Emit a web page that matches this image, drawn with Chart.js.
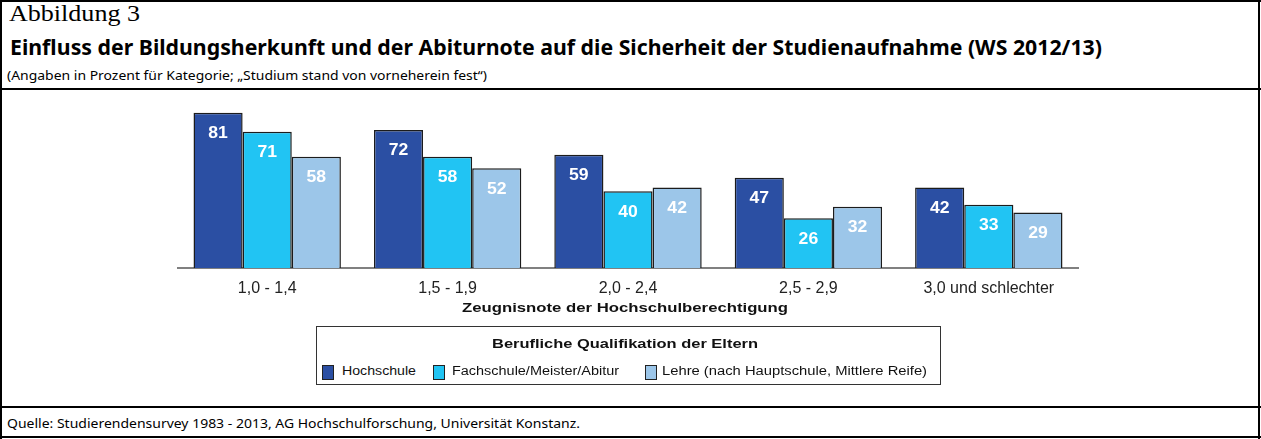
<!DOCTYPE html>
<html>
<head>
<meta charset="utf-8">
<script src="https://cdn.jsdelivr.net/npm/chart.js@4"></script>
<style>
  body { margin: 0; background: #fff; }
  #frame { position: relative; width: 1261px; height: 439px; overflow: hidden; }
  .rule { position: absolute; background: #000; }
  .txt { position: absolute; white-space: nowrap; color: #000; transform-origin: 0 0; }
  #head1 { left: 9px; top: 0px; font: 24px "Liberation Serif", serif; }
  #head2 { left: 10px; top: 31px; font: bold 22px "Noto Sans", sans-serif; }
  #sub { left: 7px; top: 66px; font: 13px "Noto Sans", sans-serif; }
  #src { left: 7px; top: 414px; font: 13px "Noto Sans", sans-serif; }
  #xTitle { left: 462px; top: 300px; font: bold 13px "Liberation Sans", Arial, sans-serif; color: #111; }
  #chartBox { position: absolute; left: 177px; top: 105px; width: 902px; height: 213px; }
  #legend { position: absolute; left: 316px; top: 326px; width: 623px; height: 57px; border: 1px solid #333; }
  #legend .txt { font: 12px "Liberation Sans", Arial, sans-serif; color: #111; }
  #legend .lt { font-weight: bold !important; font-size: 13px !important; }
  #legend .sw { position: absolute; width: 10px; height: 13px; border: 1px solid #222; }
</style>
</head>
<body>
<div id="frame">
  <div class="rule" style="left:0;top:0;width:1261px;height:2px"></div>
  <div class="rule" style="left:0;top:0;width:2px;height:439px"></div>
  <div class="rule" style="left:1258px;top:0;width:2px;height:439px"></div>
  <div class="rule" style="left:0;top:88px;width:1261px;height:2px"></div>
  <div class="rule" style="left:0;top:406px;width:1261px;height:2px"></div>
  <div class="rule" style="left:0;top:436px;width:1261px;height:2px"></div>

  <div class="txt" id="head1" data-w="131">Abbildung 3</div>
  <div class="txt" id="head2" data-w="1092">Einfluss der Bildungsherkunft und der Abiturnote auf die Sicherheit der Studienaufnahme (WS 2012/13)</div>
  <div class="txt" id="sub" data-w="480">(Angaben in Prozent für Kategorie; „Studium stand von vorneherein fest“)</div>
  <div class="txt" id="src" data-w="573">Quelle: Studierendensurvey 1983 - 2013, AG Hochschulforschung, Universität Konstanz.</div>

  <div id="chartBox"><canvas id="chart" width="902" height="213"></canvas></div>
  <div class="txt" id="xTitle" data-w="326">Zeugnisnote der Hochschulberechtigung</div>
  <div id="legend"><div class="txt lt" data-w="266" style="left:175px;top:9px">Berufliche Qualifikation der Eltern</div></div>
</div>
<script>
const categories = ['1,0 - 1,4', '1,5 - 1,9', '2,0 - 2,4', '2,5 - 2,9', '3,0 und schlechter'];
const seriesNames = ['Hochschule', 'Fachschule/Meister/Abitur', 'Lehre (nach Hauptschule, Mittlere Reife)'];
const hochschule = [81, 72, 59, 47, 42];
const fachschule = [71, 58, 40, 26, 33];
const lehre = [58, 52, 42, 32, 29];
const colors = ['#2b4fa3', '#21c4f3', '#9cc6e9'];

// legend, laid out like the original box
const legend = document.getElementById('legend');
const swatchX = [5, 116, 328];
const labelX = [25, 135, 345];
const labelW = [74, 167, 265];
seriesNames.forEach(function (name, i) {
  const sw = document.createElement('span');
  sw.className = 'sw';
  sw.style.left = swatchX[i] + 'px';
  sw.style.top = '38px';
  sw.style.background = colors[i];
  legend.appendChild(sw);
  const lb = document.createElement('div');
  lb.className = 'txt';
  lb.style.left = labelX[i] + 'px';
  lb.style.top = '37px';
  lb.dataset.w = labelW[i];
  lb.textContent = name;
  legend.appendChild(lb);
});

// stretch texts to the widths of the original
document.querySelectorAll('.txt[data-w]').forEach(function (el) {
  const w = el.getBoundingClientRect().width;
  el.style.transform = 'scaleX(' + (el.dataset.w / w) + ')';
});

const valueLabels = {
  id: 'valueLabels',
  afterDatasetsDraw(chart) {
    const ctx = chart.ctx;
    chart.data.datasets.forEach(function (ds, i) {
      chart.getDatasetMeta(i).data.forEach(function (bar, j) {
        ctx.save();
        ctx.translate(bar.x, bar.y + 21);
        ctx.scale(1.1, 1);
        ctx.fillStyle = '#fff';
        ctx.font = 'bold 16px "Liberation Sans", Arial, sans-serif';
        ctx.textAlign = 'center';
        ctx.textBaseline = 'middle';
        ctx.fillText(ds.data[j], 0, 0);
        ctx.restore();
      });
    });
  }
};

const seriesData = [hochschule, fachschule, lehre];
new Chart(document.getElementById('chart'), {
  type: 'bar',
  data: {
    labels: categories,
    datasets: seriesData.map(function (d, i) {
      return {
        label: seriesNames[i],
        data: d,
        backgroundColor: colors[i],
        borderColor: '#1c1c1c',
        borderWidth: 1.5,
        barPercentage: 1,
        categoryPercentage: 0.817
      };
    })
  },
  options: {
    responsive: false,
    animation: false,
    events: [],
    layout: { padding: 0 },
    plugins: { legend: { display: false }, tooltip: { enabled: false } },
    scales: {
      x: {
        grid: { display: false },
        border: { display: true, color: '#808080', width: 2 },
        ticks: {
          color: '#222', padding: 3, maxRotation: 0, autoSkip: false,
          font: { family: '"Liberation Sans", Arial, sans-serif', size: 16 }
        },
        afterFit(scale) { scale.height = 50; }
      },
      y: { display: false, min: 0, max: 85 }
    }
  },
  plugins: [valueLabels]
});
</script>
</body>
</html>
